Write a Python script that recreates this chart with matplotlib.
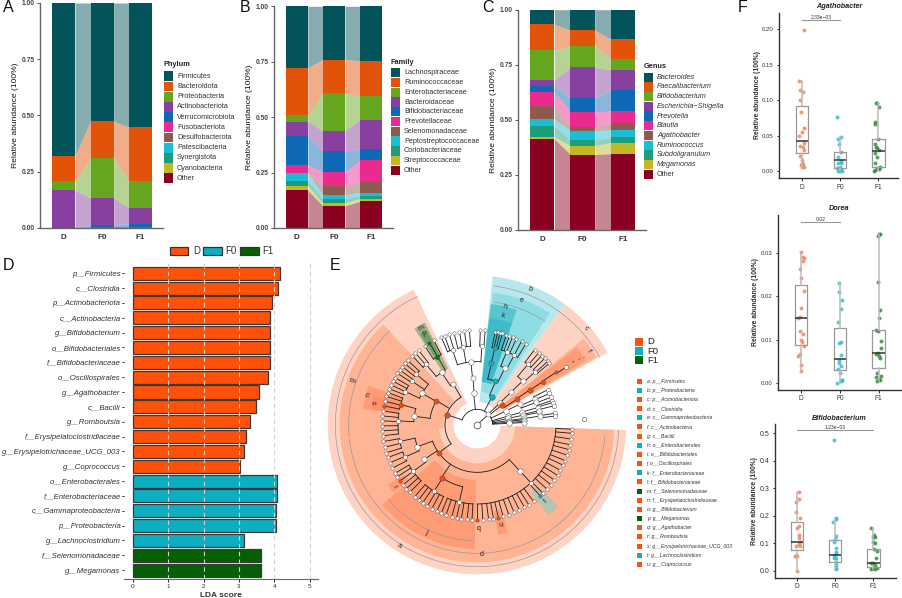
import numpy as np
import matplotlib
matplotlib.use('Agg')
import matplotlib.pyplot as plt
from matplotlib.patches import Rectangle

plt.rcParams['font.family'] = ['Liberation Sans', 'DejaVu Sans']
plt.rcParams['axes.unicode_minus'] = True

W, H = 903, 598
TXT = '#333333'

# stacked bars
groups = ['D', 'F0', 'F1']
palette = ['#02535A', '#E2530A', '#66A61E', '#87409F', '#0E68B5', '#EA2A8F',
           '#8E5A4E', '#1ABDD3', '#1D9D7A', '#C2B826', '#8A0020']

phylum_names = ['Firmicutes', 'Bacteroidota', 'Proteobacteria', 'Actinobacteriota', 'Verrucomicrobiota',
                'Fusobacteriota', 'Desulfobacterota', 'Patescibacteria', 'Synergistota', 'Cyanobacteria', 'Other']
phylum_D = [.680, .113, .040, .162, .003, .0004, .0004, .0003, .0003, .0003, .0003]
phylum_F0 = [.525, .165, .177, .118, .012, .0005, .0006, .0005, .0005, .0004, .0005]
phylum_F1 = [.552, .240, .120, .068, .017, .0005, .0006, .0005, .0004, .0005, .0005]

family_names = ['Lachnospiraceae', 'Ruminococcaceae', 'Enterobacteriaceae', 'Bacteroidaceae', 'Bifidobacteriaceae',
                'Prevotellaceae', 'Selenomonadaceae', 'Peptostreptococcaceae', 'Coriobacteriaceae',
                'Streptococcaceae', 'Other']
family_D = [.278, .212, .030, .064, .131, .035, .002, .034, .024, .020, .170]
family_F0 = [.240, .152, .170, .092, .093, .065, .038, .018, .020, .012, .100]
family_F1 = [.245, .160, .108, .132, .050, .097, .048, .015, .012, .013, .120]

genus_names = ['Bacteroides', 'Faecalibacterium', 'Bifidobacterium', 'Escherichia\u2212Shigella', 'Prevotella',
               'Blautia', 'Agathobacter', 'Ruminococcus', 'Subdoligranulum', 'Megamonas', 'Other']
genus_D = [.065, .120, .134, .027, .029, .062, .061, .030, .050, .009, .413]
genus_F0 = [.094, .072, .096, .139, .063, .067, .018, .043, .025, .041, .342]
genus_F1 = [.133, .089, .052, .091, .095, .056, .030, .033, .025, .050, .346]

# LDA bars
lda_names = ['p__Firmicutes', 'c__Clostridia', 'p__Actinobacteriota', 'c__Actinobacteria', 'g__Bifidobacterium',
             'o__Bifidobacteriales', 'f__Bifidobacteriaceae', 'o__Oscillospirales', 'g__Agathobacter', 'c__Bacilli',
             'g__Romboutsia', 'f__Erysipelatoclostridiaceae', 'g__Erysipelotrichaceae_UCG_003', 'g__Coprococcus',
             'o__Enterobacterales', 'f__Enterobacteriaceae', 'c__Gammaproteobacteria', 'p__Proteobacteria',
             'g__Lachnoclostridium', 'f__Selenomonadaceae', 'g__Megamonas']
lda_scores = [4.15, 4.11, 3.95, 3.89, 3.89, 3.89, 3.89, 3.81, 3.57, 3.47, 3.31, 3.21, 3.15, 3.04,
              4.08, 4.08, 4.06, 4.06, 3.14, 3.62, 3.62]
lda_groups = ['D'] * 14 + ['F0'] * 5 + ['F1'] * 2
lda_colors = {'D': '#FF5108', 'F0': '#0EAEC1', 'F1': '#056005'}

# cladogram legend
clade_labels = ['a: p__Firmicutes', 'b: p__Proteobacteria', 'c: p__Actinobacteriota', 'd: c__Clostridia',
                'e: c__Gammaproteobacteria', 'f: c__Actinobacteria', 'g: c__Bacilli', 'h: o__Enterobacterales',
                'i: o__Bifidobacteriales', 'j: o__Oscillospirales', 'k: f__Enterobacteriaceae',
                'l: f__Bifidobacteriaceae', 'm: f__Selenomonadaceae', 'n: f__Erysipelatoclostridiaceae',
                'o: g__Bifidobacterium', 'p: g__Megamonas', 'q: g__Agathobacter', 'r: g__Romboutsia',
                's: g__Erysipelotrichaceae_UCG_003', 't: g__Lachnoclostridium', 'u: g__Coprococcus']
clade_groups = ['D', 'F0', 'D', 'D', 'F0', 'D', 'D', 'F0', 'D', 'D', 'F0', 'D', 'F1', 'D', 'D', 'F1', 'D', 'D', 'D', 'F0', 'D']

# shaded sectors: start angle, end angle, inner radius, outer radius
sector_start = [115, 133, 185.5, 220, 54, 57, 71, 71, 29, 29.5, 30.5, 160, 164, 214, 281, 308.5, 117, 118]
sector_end = [358, 185.5, 358, 269, 84, 83, 83.5, 83.5, 54, 39, 38, 172, 171, 219, 286, 315, 123, 122]
sector_in = [70, 100, 115, 165, 70, 100, 130, 130, 70, 100, 100, 237, 237, 265, 265, 260, 190, 237]
sector_out = [448, 412, 412, 372, 448, 400, 365, 322, 448, 412, 380, 345, 322, 322, 335, 345, 345, 322]
sector_col = ['#FFD3C3', '#FFB495', '#FFB495', '#FF9C76', '#B8E8EC', '#8FDCE3', '#55C5D0', '#3DBBC8',
              '#FFD3C3', '#FFB495', '#FF9C76', '#FF9C76', '#FF8F68', '#FF9C76', '#FF9C76', '#B5C4AE', '#A6B48C', '#6FA067']

ring_start = [115, 133, 186, 220, 54, 57, 29]
ring_end = [358, 185, 355, 268, 83, 82, 54]
ring_r = [425, 385, 385, 347, 420, 372, 420]

letter_txt = ['a', 'b', 'c', 'd', 'e', 'f', 'g', 'h', 'j', 'k', 'm', 'n', 'p', 'q', 'r', 's', 't', 'u']
letter_th = [237, 68.8, 41.6, 272, 70.4, 33.5, 160, 76.6, 244.7, 76.6, 119.8, 164.5, 119.7, 271, 216.7, 168, 312, 283.4]
letter_r = [431, 437, 437, 388, 396, 402, 394, 363, 356, 337, 336, 336, 317, 310, 310, 312, 309, 310]
tiny_txt = ['o', 'l', 'i']
tiny_th = [34, 33, 33]
tiny_r = [344, 362, 378]

# tree as (angle, group, children), a bare number is a plain leaf
comb = [(270, 'D', []), 273.5, 277, 280, (283, 'D', []), 286, 289.5, 293, 296.5, 300, 303, 306.5, (311.7, 'F0', []),
        314, 317.5, 321, 324.5, 328, 331.5, 335, 338, 341.5, 345, 348, 351.5, 355, 357.5]
bacilli = (149, 'D', [
    (150, None, [(140, None, [137, 139.5, 142]), (146, None, [144.5, 147]), (155, None, [150, 152.5, 155, 157.5])]),
    (172, None, [(165, 'D', [(168.4, 'D', []), 165.5, 162.5, 160]),
                 (177, None, [171.5, 174.5, 177.5, 180.5, 183.5, 186.5])])])
negativi = (120, None, [(124, None, [(130, None, [133, 130.5, 128]),
                                     (120, 'F1', [(120, 'F1', []), 123.5, 117])])])
clostridia = (216, 'D', [
    (200, None, [(192, None, [190, 193.5, 197]), (204, None, [200, 203.5, 207])]),
    (213, None, [(216, None, [(216, 'D', []), 210.5, 213, 219, 222, 225])]),
    (236, 'D', [(237, None, [229, 232, 235, 238.5, 241.6, 245]),
                (257, None, [248, 251, 254.6, 257.6, 260.5, 264, 267])]),
    (313, None, [(313, None, comb)])])
tree = (43, None, [
    (161, 'D', [bacilli, negativi, clostridia]),
    (96, None, [(95, None, [(95.5, None, [(108, None, [112, 110, 107]), (100, None, [104, 100.7, 97.6, 94.6]),
                                          (86.5, None, [88, 85])])])]),
    (62, 'F0', [(67, 'F0', [(76.8, 'F0', [(77, 'F0', [79, 77.5, 76, 74.5])]),
                            (64, None, [(68, None, [72, 70, 68]), (62, None, [65.5, 62, 59])])])]),
    (44, None, [(44, None, [(44, None, [(50, None, [52.6, 49.5, 47]), (42.5, None, [44.5, 42, 40.5])])])]),
    (38.7, 'D', [(32.7, 'D', [(33.6, 'D', [(33.4, 'D', [(33.7, 'D', [33])])])])]),
    (26, None, [(26, None, [(24, None, [26.5, 23.5]), (21, None, [20.5, 18])])]),
    (16, None, [(16, None, [(16, None, [16.5, 14])])]),
    (12, None, [(12, None, [11.5, 13])]),
    (8, None, [(8, None, [(8, None, [8.5, 6.5])])]),
    (5, None, [6.5, 4.5]),
    (3, None, [3])])
lone_th, lone_r = [3], [322]
depth_r = [0, 47, 96, 142, 190, 237, 285, 317]
depth_s = [25, 14, 16, 14, 15, 10, 6, 10]
node_col = {None: 'white', 'D': '#EA4E0F', 'F0': '#0FAEC0', 'F1': '#0D6A1C'}

# jitter panels: offsets and values per group, then box stats (low, q1, median, q3, high)
point_col = {'D': '#EE8A5F', 'F0': '#38BFCF', 'F1': '#3C8C46'}

aga_D_x = [.06, -.07, -.03, .04, -.03, -.02, .05, .02, -.08, .06, -.03, .04, .06, -.03, .02, .02, -.02, .04, 0, .06]
aga_D_y = [.199, .1275, .114, .112, .100, .084, .061, .0546, .050, .040, .035, .034, .030, .0216, .016, .011, .008, .0099, .005, .006]
aga_F0_x = [-.07, .02, -.05, -.03, .02, -.06, .03, -.05, .03, -.01, -.05, .05, -.01, -.08, .03, -.02, 0]
aga_F0_y = [.0758, .048, .045, .0376, .0268, .020, .0146, .0108, .0108, .006, 0, 0, .0014, .004, .0025, .0035, .0005]
aga_F1_x = [-.07, -.04, .01, -.10, -.08, -.02, -.09, -.07, -.04, .02, -.09, -.03, -.08, .03, -.03, -.08, -.11, .02]
aga_F1_y = [.0955, .0955, .0908, .0696, .0663, .0447, .0376, .0343, .032, .030, .025, .020, .0118, .006, .0038, .0014, .0005, .0022]
aga_box = [(.005, .0259, .0419, .0918, .1275), (0, .004, .015, .0268, .048), (0, .005, .028, .0447, .0955)]

dor_D_x = [0, .06, .08, .05, -.03, 0, .08, 0, -.03, -.08, -.02, .06, 0, .03, .08, -.03, -.07, -.01, 0]
dor_D_y = [.0302, .0292, .0288, .0282, .0263, .0242, .0212, .0174, .0153, .0151, .012, .0113, .0099, .0094, .0086, .0066, .0063, .0041, .0029]
dor_F0_x = [-.01, -.03, .06, .03, -.06, -.03, .03, .03, -.03, -.01, .03, -.05, .01, .05, .04, -.07, .05]
dor_F0_y = [.0232, .021, .0192, .0172, .0142, .0093, .0094, .0065, .0053, .0047, .0039, .0032, .0024, .0007, .0005, .0001, .0008]
dor_F1_x = [-.02, .01, .04, -.01, .03, .02, -.03, -.06, .06, .06, -.03, -.07, .02, .04, -.04, -.06, .05, 0, -.04, .04]
dor_F1_y = [.034, .0343, .0345, .0234, .0169, .0151, .0121, .0122, .0098, .0082, .0069, .0068, .0063, .0057, .0024, .0015, .0016, .0009, .0005, .0006]
dor_box = [(.0029, .00877, .015, .0227, .0302), (.0001, .0031, .0055, .0126, .0232), (.0005, .0034, .0069, .0122, .0345)]

bif_D_x = [.06, .04, -.03, -.03, .07, .06, .01, .06, .06, .08, .05, -.03, .08, -.03, .01, -.04, -.01]
bif_D_y = [.288, .26, .2506, .213, .191, .164, .1545, .13, .12, .103, .097, .091, .091, .0547, .054, .052, 0]
bif_F0_x = [-.02, .03, .02, -.05, .01, 0, -.02, .02, .03, -.02, .03, .02, -.03, .03, .02, .02, .03]
bif_F0_y = [.4757, .192, .19, .176, .1265, .1144, .103, .0815, .069, .057, .06, .045, .047, .033, .02, .0085, .005]
bif_F1_x = [-.06, .02, -.02, .04, -.02, .04, .01, .09, .06, -.06, -.02, .04, -.05, 0, .09, .04, -.07]
bif_F1_y = [.157, .13, .124, .124, .106, .10, .079, .072, .045, .027, .027, .02, .011, .0085, .011, .005, .006]
bif_box = [(0, .0766, .103, .179, .288), (.005, .033, .057, .113, .192), (.005, .0146, .0268, .078, .157)]

fig = plt.figure(figsize=(W / 100, H / 100), dpi=100)


def px_axes(left, top, right, bottom, **kw):
    return fig.add_axes([left / W, 1 - bottom / H, (right - left) / W, (bottom - top) / H], **kw)


def stacked(box, rows, xlim):
    ax = px_axes(*box)
    values = np.array(rows)          # groups x layers
    tops = 1 - np.cumsum(values, axis=1) + values
    bottoms = tops - values
    for j, col in enumerate(palette):
        ax.bar(range(3), values[:, j], 0.6, bottom=bottoms[:, j], color=col, linewidth=0)
        for i in range(2):
            ax.fill_between([i + .3, i + .7], [bottoms[i, j], bottoms[i + 1, j]], [tops[i, j], tops[i + 1, j]],
                            color=col, alpha=.48, linewidth=0)
    ax.set_xlim(*xlim)
    ax.set_ylim(0, 1)
    ax.set_xticks(range(3), groups, fontsize=5.8, fontweight='bold', color=TXT)
    ax.set_yticks([0, .25, .5, .75, 1], ['0.00', '0.25', '0.50', '0.75', '1.00'], fontsize=4.8, fontweight='bold', color='#444444')
    ax.tick_params(axis='x', length=0, pad=4)
    ax.tick_params(axis='y', length=2, width=.7, color='#555555', pad=2)
    ax.set_ylabel('Relative abundance (100%)', fontsize=6.1, color='#111111', labelpad=1.5)
    ax.spines[['top', 'right']].set_visible(False)
    ax.spines[['left', 'bottom']].set_color('#666666')
    ax.spines[['left', 'bottom']].set_linewidth(1)
    return ax


stacked((40, 3, 163, 228), [phylum_D, phylum_F0, phylum_F1], (-.61, 2.58))
stacked((274, 6.3, 393, 228), [family_D, family_F0, family_F1], (-.61, 2.59))
stacked((518, 9.7, 646, 230), [genus_D, genus_F0, genus_F1], (-.6, 2.57))

# panel D
ax = px_axes(124, 262, 318, 579)
ypos = np.arange(len(lda_names))
ax.barh(ypos, lda_scores, 0.88, color=[lda_colors[g] for g in lda_groups], edgecolor='#3a3a3a', linewidth=.9, zorder=2)
for v in range(1, 6):
    ax.axvline(v, color='#cfcfcf', linewidth=.8, linestyle=(0, (4, 3)), zorder=3)
ax.set_xlim(-.255, 5.24)
ax.set_ylim(20.6, -.76)
ax.set_yticks(ypos, lda_names, fontsize=5.6, fontstyle='italic', color=TXT)
ax.set_xticks(range(6), range(6), fontsize=4.6, color=TXT)
ax.set_xlabel('LDA score', fontsize=6, fontweight='bold', color=TXT, labelpad=2.5)
ax.tick_params(axis='y', length=1.5, width=.6, pad=1)
ax.tick_params(axis='x', length=1.8, width=.6, pad=1.5)
ax.spines[['top', 'right', 'left']].set_visible(False)
ax.spines['bottom'].set_color('#666666')

# panel E
pol = px_axes(327, 275, 627, 575, projection='polar')
pol.set_ylim(0, 450)
pol.axis('off')
pol.patch.set_alpha(0)
for s, e, ri, ro, c in zip(sector_start, sector_end, sector_in, sector_out, sector_col):
    pol.bar(np.deg2rad((s + e) / 2), ro - ri, np.deg2rad(e - s), bottom=ri, color=c, linewidth=0, zorder=1, clip_on=False)
for s, e, r in zip(ring_start, ring_end, ring_r):
    pol.plot(np.deg2rad(np.linspace(s, e, 90)), np.full(90, r), color='#999999', linewidth=.5, zorder=2, clip_on=False)


def draw_node(node, depth):
    if not isinstance(node, tuple):
        node = (node, None, [])
    th, grp, kids = node
    r = depth_r[depth]
    angles = [th]
    for kid in kids:
        kid_th = kid[0] if isinstance(kid, tuple) else kid
        angles.append(kid_th)
        pol.plot(np.deg2rad([kid_th, kid_th]), [r, depth_r[depth + 1]], color='#1a1a1a', linewidth=.6, zorder=3, clip_on=False)
        draw_node(kid, depth + 1)
    if kids:
        pol.plot(np.deg2rad(np.linspace(min(angles), max(angles), 40)), np.full(40, r), color='#1a1a1a', linewidth=.6, zorder=3, clip_on=False)
    pol.scatter(np.deg2rad(th), r, s=depth_s[depth], color=node_col[grp], edgecolors='#555555', linewidths=.35, zorder=4, clip_on=False)


pol.plot(np.deg2rad([43, 43]), [0, 47], color='#1a1a1a', linewidth=.6, zorder=3)
draw_node(tree, 1)
pol.scatter(0, 0, s=depth_s[0], color='white', edgecolors='#444444', linewidths=.5, zorder=5)
pol.scatter(np.deg2rad(lone_th), lone_r, s=9, color='white', edgecolors='#444444', linewidths=.4, zorder=4, clip_on=False)
for t, th, r in zip(letter_txt, letter_th, letter_r):
    rot = th - 90 if th < 180 else th + 90
    pol.text(np.deg2rad(th), r, t, fontsize=5.2, color='#222222', rotation=rot, rotation_mode='anchor',
             ha='center', va='center', zorder=6)
for t, th, r in zip(tiny_txt, tiny_th, tiny_r):
    pol.text(np.deg2rad(th), r, t, fontsize=3, color='#222222', rotation=th - 90, rotation_mode='anchor',
             ha='center', va='center', zorder=6)


# panel F
def jitter(box, xlim, ylim, ticks, ticklabels, xs, ys, stats, title, title_y, bracket, p_text, tick_fs):
    ax = px_axes(*box)
    for i, g in enumerate(groups):
        ax.scatter(i + np.array(xs[i]), ys[i], s=8, color=point_col[g], alpha=.85, linewidths=0, zorder=3)
    bstats = [dict(whislo=s[0], q1=s[1], med=s[2], q3=s[3], whishi=s[4], fliers=[]) for s in stats]
    ax.bxp(bstats, positions=range(3), widths=.32, showcaps=False, showfliers=False, manage_ticks=False,
           boxprops=dict(color='#999999', linewidth=.9), whiskerprops=dict(color='#bbbbbb', linewidth=1.1),
           medianprops=dict(color='#333333', linewidth=1.1), zorder=4)
    ax.set_xlim(*xlim)
    ax.set_ylim(*ylim)
    ax.set_xticks(range(3), groups, fontsize=4.8, color=TXT)
    ax.set_yticks(ticks, ticklabels, fontsize=tick_fs, color=TXT)
    ax.tick_params(axis='both', length=1.8, width=.6, pad=2)
    ax.set_ylabel('Relative abundance (100%)', fontsize=4.85, fontweight='bold', color=TXT, labelpad=1)
    ax.spines[['top', 'right']].set_visible(False)
    ax.spines[['left', 'bottom']].set_color('#333333')
    ax.spines[['left', 'bottom']].set_linewidth(1)
    ax.plot(bracket[:2], [bracket[2]] * 2, color='#999999', linewidth=.8, clip_on=False)
    ax.text(sum(bracket[:2]) / 2, bracket[2], p_text, fontsize=3.6, color=TXT, ha='center', va='bottom')
    fig.text(839 / W, 1 - title_y / H, title, fontsize=5.2, fontweight='bold', fontstyle='italic', color='#222222', ha='center', va='center')


jitter((779, 12.7, 898, 178.3), (-.59, 2.51), (-.0103, .2236), [0, .05, .1, .15, .2],
       ['0.00', '0.05', '0.10', '0.15', '0.20'], [aga_D_x, aga_F0_x, aga_F1_x], [aga_D_y, aga_F0_y, aga_F1_y],
       aga_box, 'Agathobacter', 6.7, (0, 1, .2136), '2.33e\u221203', 4.3)
jitter((777.7, 215, 902, 390), (-.6, 2.6), (-.0016, .0388), [0, .01, .02, .03],
       ['0.00', '0.01', '0.02', '0.03'], [dor_D_x, dor_F0_x, dor_F1_x], [dor_D_y, dor_F0_y, dor_F1_y],
       dor_box, 'Dorea', 208, (0, 1, .0371), '0.02', 4.3)
jitter((774.7, 424, 896, 577.7), (-.584, 2.59), (-.0255, .534), [0, .1, .2, .3, .4, .5],
       ['0.0', '0.1', '0.2', '0.3', '0.4', '0.5'], [bif_D_x, bif_F0_x, bif_F1_x], [bif_D_y, bif_F0_y, bif_F1_y],
       bif_box, 'Bifidobacterium', 418, (0, 2, .511), '1.23e\u221203', 5)

# legends and letters on a pixel overlay
ov = px_axes(0, 0, W, H)
ov.set_xlim(0, W)
ov.set_ylim(H, 0)
ov.axis('off')
ov.patch.set_alpha(0)


def side_legend(x, title_y, first_y, step, title, names, italic=False, sw=9.5, tx=13):
    ov.text(x, title_y, title, fontsize=5.3, fontweight='bold', color='#222222', va='center')
    for i, (n, c) in enumerate(zip(names, palette)):
        y = first_y + i * step
        ov.add_patch(Rectangle((x, y - step / 2 + .2), sw, step - .4, color=c, linewidth=0))
        style = 'italic' if italic and n != 'Other' else 'normal'
        ov.text(x + tx, y, n, fontsize=5.2, color=TXT, va='center', fontstyle=style)


side_legend(164, 65, 76.3, 10.2, 'Phylum', phylum_names)
side_legend(391, 62, 72.7, 9.77, 'Family', family_names)
side_legend(644, 66.7, 77.3, 9.7, 'Genus', genus_names, italic=True)

for g, x0, x1, tx in zip(groups, [170, 203, 240], [188, 222, 259], [193, 225, 262]):
    ov.add_patch(Rectangle((x0, 247), x1 - x0, 8, facecolor=lda_colors[g], edgecolor='#333333', linewidth=.9))
    ov.text(tx, 251, g, fontsize=7, color=TXT, va='center')

for i, g in enumerate(groups):
    y = 338 + i * 9.2
    ov.add_patch(Rectangle((635, y), 8, 8, color=lda_colors[g], linewidth=0))
    ov.text(647, y + 4, g, fontsize=6.8, color='#222222', va='center')
for i, (t, g) in enumerate(zip(clade_labels, clade_groups)):
    y = 381 + i * 9.17
    ov.add_patch(Rectangle((637, y - 2.5), 5, 5, color=lda_colors[g], linewidth=0))
    ov.text(647, y, t, fontsize=3.7, fontstyle='italic', color=TXT, va='center')

for t, x, y in zip('ABCDEF', [3, 240, 482, 3, 330, 738], [7, 7, 8, 265, 266, 8]):
    ov.text(x, y, t, fontsize=11.5, color='#111111', va='center')

fig.savefig('out.png', dpi=100)
